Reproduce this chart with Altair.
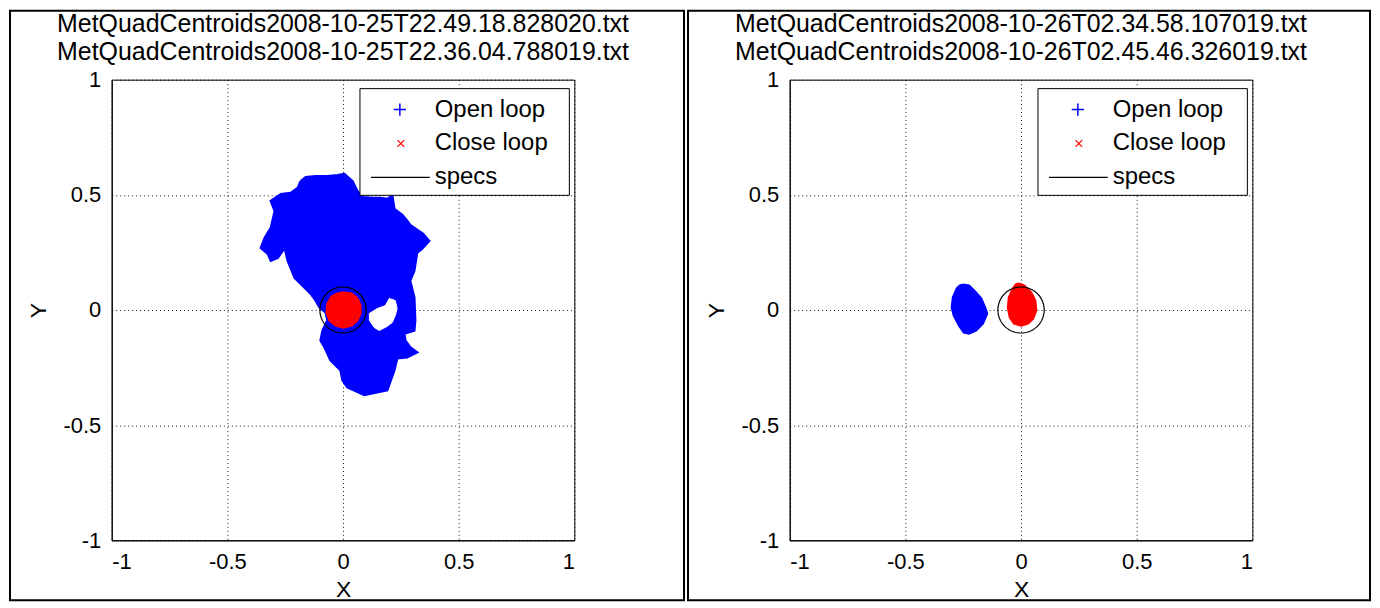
import altair as alt
import numpy as np
import pandas as pd

# ---------------- data ----------------
titles_left = ["MetQuadCentroids2008-10-25T22.49.18.828020.txt",
               "MetQuadCentroids2008-10-25T22.36.04.788019.txt"]
titles_right = ["MetQuadCentroids2008-10-26T02.34.58.107019.txt",
                "MetQuadCentroids2008-10-26T02.45.46.326019.txt"]
tick_values = [-1, -0.5, 0, 0.5, 1]
series_labels = ["Open loop", "Close loop", "specs"]

# outline of the open-loop cloud, left panel
left_open_x = [-0.183, -0.161, -0.118, -0.067, -0.024, 0.006, 0.041, 0.062, 0.084, 0.127,
               0.161, 0.191, 0.213, 0.222, 0.256, 0.277, 0.290, 0.320, 0.346, 0.372,
               0.342, 0.320, 0.308, 0.290, 0.308, 0.312, 0.308, 0.265, 0.269, 0.290,
               0.320, 0.277, 0.234, 0.222, 0.191, 0.092, 0.019, -0.002, -0.011, -0.054,
               -0.080, -0.097, -0.088, -0.067, -0.075, -0.101, -0.118, -0.140, -0.166, -0.209,
               -0.239, -0.252, -0.282, -0.312, -0.325, -0.355, -0.338, -0.312, -0.295, -0.312,
               -0.269, -0.226, -0.196]
left_open_y = [0.559, 0.577, 0.581, 0.581, 0.585, 0.590, 0.559, 0.516, 0.490, 0.486,
               0.486, 0.482, 0.495, 0.438, 0.413, 0.387, 0.369, 0.348, 0.330, 0.300,
               0.266, 0.248, 0.171, 0.127, 0.054, -0.045, -0.089, -0.102, -0.132, -0.162,
               -0.184, -0.205, -0.210, -0.261, -0.348, -0.369, -0.335, -0.305, -0.261, -0.218,
               -0.162, -0.132, -0.089, -0.045, -0.011, 0.011, 0.041, 0.071, 0.097, 0.140,
               0.214, 0.270, 0.227, 0.214, 0.244, 0.270, 0.313, 0.356, 0.430, 0.473,
               0.503, 0.508, 0.529]
# empty pocket inside the open-loop cloud, left panel
left_gap_x = [0.114, 0.148, 0.183, 0.200, 0.226, 0.234, 0.226, 0.213, 0.191, 0.157, 0.135, 0.114]
left_gap_y = [-0.015, 0.006, 0.019, 0.050, 0.041, 0.006, -0.024, -0.054, -0.071, -0.089, -0.076, -0.045]
# outline of the close-loop cloud, left panel
left_close_x = [0.002, 0.037, 0.062, 0.075, 0.075, 0.062, 0.037, 0.002, -0.032, -0.058,
                -0.071, -0.067, -0.049, -0.024]
left_close_y = [0.076, 0.071, 0.050, 0.019, -0.015, -0.045, -0.067, -0.076, -0.067, -0.045,
                -0.011, 0.028, 0.058, 0.071]
# outline of the open-loop cloud, right panel
right_open_x = [-0.251, -0.225, -0.195, -0.173, -0.156, -0.147, -0.165, -0.195, -0.225, -0.247,
                -0.268, -0.290, -0.299, -0.294, -0.277, -0.264]
right_open_y = [0.110, 0.106, 0.076, 0.050, 0.011, -0.015, -0.058, -0.089, -0.102, -0.097,
                -0.067, -0.024, 0.011, 0.054, 0.093, 0.106]
# outline of the close-loop cloud, right panel
right_close_x = [-0.009, 0.013, 0.043, 0.061, 0.065, 0.052, 0.030, 0.000, -0.030, -0.048,
                 -0.056, -0.052, -0.035, -0.022]
right_close_y = [0.114, 0.106, 0.076, 0.041, -0.002, -0.037, -0.058, -0.067, -0.058, -0.032,
                 0.011, 0.054, 0.093, 0.110]
spec_radius = 0.1

# ---------------- helpers ----------------
BLUE = "#0000ff"
RED = "#ff0000"
FONT = "Liberation Sans"
W, H = 464, 462

xscale = alt.Scale(domain=[-1, 1], nice=False, zero=False)
yscale = alt.Scale(domain=[-1, 1], nice=False, zero=False)
xaxis = alt.Axis(values=tick_values, labelExpr="datum.value + ''", title="X",
                 grid=True, ticks=False, labelPadding=11, titlePadding=6)
yaxis = alt.Axis(values=tick_values, labelExpr="datum.value + ''", title="Y",
                 grid=True, ticks=False, labelPadding=11, titlePadding=12)


def polygon(xs, ys):
    xs = list(xs) + [xs[0]]
    ys = list(ys) + [ys[0]]
    return pd.DataFrame({"x": xs, "y": ys, "i": range(len(xs))})


def shape_layer(xs, ys, color, width=2.5):
    return alt.Chart(polygon(xs, ys)).mark_line(
        fill=color, stroke=color, strokeWidth=width, strokeJoin="miter"
    ).encode(
        x=alt.X("x:Q", scale=xscale, axis=xaxis),
        y=alt.Y("y:Q", scale=yscale, axis=yaxis),
        order="i:Q",
    )


t = np.linspace(0, 2 * np.pi, 121)
spec_df = pd.DataFrame({"x": spec_radius * np.cos(t), "y": spec_radius * np.sin(t),
                        "i": range(len(t))})


def spec_layer():
    return alt.Chart(spec_df).mark_line(color="black", strokeWidth=1.2).encode(
        x=alt.X("x:Q", scale=xscale, axis=xaxis),
        y=alt.Y("y:Q", scale=yscale, axis=yaxis),
        order="i:Q",
    )


legend_df = pd.DataFrame({"label": series_labels})
one = pd.DataFrame({"k": [0]})


def legend_layers():
    box = alt.Chart(one).mark_rect(fill="white", stroke="black", strokeWidth=1).encode(
        x=alt.value(249), x2=alt.value(459), y=alt.value(9), y2=alt.value(116))
    plus = alt.Chart(one).mark_point(shape="M-1,0H1M0,-1V1", size=150, stroke=BLUE,
                                     strokeWidth=1.5, filled=False, opacity=1).encode(
        x=alt.value(289), y=alt.value(30))
    cross = alt.Chart(one).mark_point(shape="M-1,-1L1,1M-1,1L1,-1", size=45, stroke=RED,
                                      strokeWidth=1.2, filled=False, opacity=1).encode(
        x=alt.value(290), y=alt.value(64))
    line = alt.Chart(one).mark_rule(color="black", strokeWidth=1.2).encode(
        x=alt.value(260), x2=alt.value(319), y=alt.value(98))
    texts = []
    for lab, yy in zip(series_labels, [30, 64, 98]):
        texts.append(
            alt.Chart(legend_df).transform_filter(alt.datum.label == lab).mark_text(
                align="left", baseline="middle", font=FONT, fontSize=24, color="black"
            ).encode(text="label:N", x=alt.value(324), y=alt.value(yy))
        )
    return [box, plus, cross, line] + texts


def title_layers(lines):
    df = pd.DataFrame({"line": lines})
    out = []
    for txt, yy in zip(lines, [-56, -28]):
        out.append(
            alt.Chart(df).transform_filter(alt.datum.line == txt).mark_text(
                align="center", baseline="middle", font=FONT, fontSize=25, color="black"
            ).encode(text="line:N", x=alt.value(W / 2), y=alt.value(yy))
        )
    return out


def frame(x_right):
    return alt.Chart(one).mark_rect(filled=False, stroke="black", strokeWidth=2).encode(
        x=alt.value(-102), x2=alt.value(x_right), y=alt.value(-69), y2=alt.value(522))


def panel(title, open_xy, close_xy, gap_xy=None, x_right=576):
    layers = [shape_layer(*open_xy, BLUE)]
    if gap_xy is not None:
        layers.append(shape_layer(*gap_xy, "white", width=1))
    layers.append(shape_layer(*close_xy, RED))
    layers.append(spec_layer())
    layers += legend_layers()
    layers += title_layers(title)
    layers.append(frame(x_right))
    return alt.layer(*layers).properties(width=W, height=H)


left = panel(titles_left, (left_open_x, left_open_y), (left_close_x, left_close_y),
             gap_xy=(left_gap_x, left_gap_y), x_right=574)
right = panel(titles_right, (right_open_x, right_open_y), (right_close_x, right_close_y),
              x_right=582)

chart = alt.hconcat(left, right, spacing=0).properties(
    padding={"left": 0, "top": 0, "right": 0, "bottom": 0}, background="white"
).configure_view(
    stroke="black", strokeWidth=1
).configure_axis(
    labelFont=FONT, labelFontSize=22, labelColor="black",
    titleFont=FONT, titleFontSize=23, titleFontWeight="normal", titleColor="black",
    gridColor="black", gridDash=[1, 3], gridWidth=1, gridOpacity=0.9,
    domainColor="black",
)

chart.save("out.html", embed_options={"renderer": "svg", "actions": False})
